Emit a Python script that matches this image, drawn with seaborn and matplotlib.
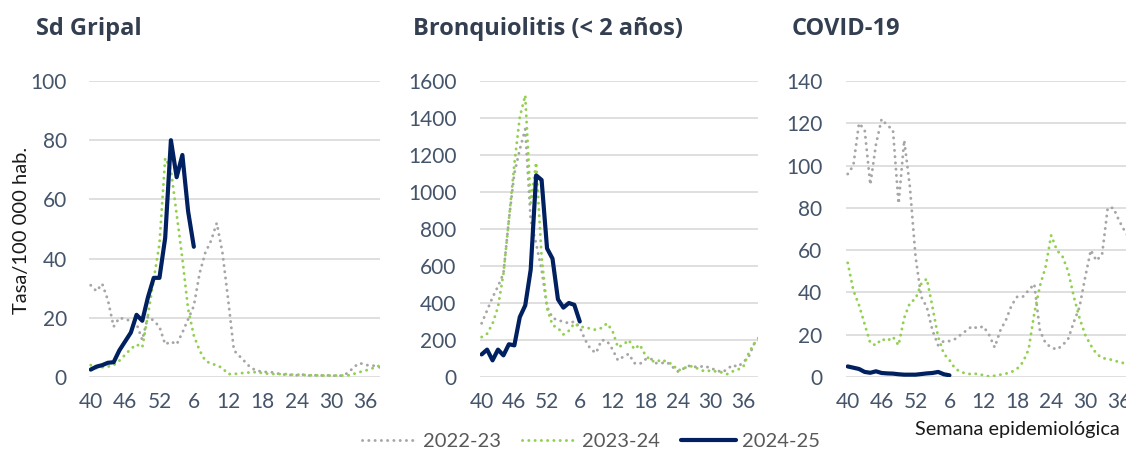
import numpy as np
import matplotlib
matplotlib.use('Agg')
import matplotlib.pyplot as plt
from matplotlib.lines import Line2D
import seaborn as sns

# epidemiological weeks 40..52, 1..39
weeks = list(range(40, 53)) + list(range(1, 40))
tick_every = 6

seasons = ['2022-23', '2023-24', '2024-25']

gripal_2223 = [31, 29, 31.5, 26, 17, 20, 19.5, 19, 18, 12.5,
               20.5, 19, 17, 11, 12, 11, 15, 19.5, 24, 35,
               42, 46, 52, 42, 26, 9, 7, 5, 3, 2.2,
               1.7, 1.7, 1.5, 1, 0.8, 0.7, 0.6, 0.8, 0.5, 0.6,
               0.5, 0.6, 0.5, 0.4, 0.5, 1.5, 3.5, 4.7, 4, 4,
               3.5, 3]
gripal_2324 = [4, 3, 3.3, 3.5, 4, 5.5, 7.5, 9.5, 11, 10,
               21, 33, 45, 74, 70, 55, 40, 23, 14, 9,
               5.5, 4.5, 4, 3, 1, 1, 1.2, 1.5, 1.5, 1.7,
               1.3, 1.1, 1, 1, 1, 0.8, 0.8, 0.7, 0.6, 0.6,
               0.5, 0.5, 0.5, 0.5, 0.5, 0.6, 1.1, 1.7, 2.2, 2.8,
               3.6, 4]
gripal_2425 = [2.5, 3.5, 4, 4.8, 5, 9, 12, 15, 21, 19,
               27, 33.5, 33.5, 47, 80, 67.5, 75, 56, 44]

bronq_2223 = [290, 360, 430, 490, 560, 850, 1100, 1230, 1340, 850,
              720, 580, 380, 320, 306, 300, 290, 300, 270, 200,
              150, 130, 200, 195, 150, 90, 110, 125, 75, 70,
              95, 100, 75, 75, 80, 55, 30, 45, 60, 55,
              55, 60, 45, 40, 25, 40, 65, 55, 80, 110,
              180, 200]
bronq_2324 = [216, 234, 288, 378, 558, 850, 1150, 1405, 1523, 940,
              1160, 650, 370, 280, 265, 230, 250, 290, 270, 270,
              260, 255, 265, 290, 250, 160, 175, 200, 150, 175,
              120, 90, 80, 95, 80, 70, 35, 45, 60, 55,
              40, 30, 35, 30, 25, 15, 30, 40, 55, 130,
              180, 220]
bronq_2425 = [122, 148, 90, 148, 117, 177, 171, 324, 387, 580,
              1090, 1065, 695, 640, 420, 375, 400, 390, 300]

covid_2223 = [96, 100, 120, 117, 91, 110, 122, 119, 117, 82,
              112, 90, 57, 38, 33, 22, 15, 17, 17, 18,
              20, 22, 24, 23, 24, 20, 14, 22, 27, 34,
              38, 38, 41, 44, 22, 16, 14, 13, 15, 18,
              26, 33, 47, 60, 55, 58, 80, 80, 74, 69,
              65, 60]
covid_2324 = [54, 41, 34, 25, 16, 15, 18, 17, 19, 15,
              28, 35, 37, 44, 46.5, 33, 19, 11, 8, 4,
              2.4, 1.6, 1.3, 1.6, 0.8, 0.3, 0.6, 1.1, 1.6, 2.4,
              4, 7, 13, 30, 43, 52, 67, 60, 57, 50,
              38, 28, 20, 15, 11, 9, 8.5, 8, 7, 6.5,
              6, 6]
covid_2425 = [5, 4.4, 3.8, 2.4, 2, 2.7, 1.9, 1.7, 1.6, 1.3,
              1.1, 1.1, 1.1, 1.4, 1.7, 1.9, 2.4, 1.3, 0.8]

titles = ['Sd Gripal', 'Bronquiolitis (< 2 años)', 'COVID-19']
y_max = [100, 1600, 140]
y_step = [20, 200, 20]

GRAY = '#a6a6a6'
GREEN = '#92d050'
NAVY = '#002060'
TICK_COLOR = '#44546a'
TITLE_COLOR = '#333f50'

sns.set_style('white')
plt.rcParams['font.family'] = ['Lato', 'DejaVu Sans']

W, H = 1126, 450
fig = plt.figure(figsize=(W / 100, H / 100), dpi=100)

# axes boxes in pixels: left, width, title-left, y tick pad
boxes = [(89, 291, 36, 16), (480, 278, 413, 17), (846, 290, 792, 17)]
xmax = [50.5, 50.7, 51.0]
top_px, bot_px = 81, 377

x = np.arange(len(weeks))
dot = dict(linestyle=(0, (0.05, 2.1)), dash_capstyle='round', linewidth=2.1)

panels = [(gripal_2223, gripal_2324, gripal_2425),
          (bronq_2223, bronq_2324, bronq_2425),
          (covid_2223, covid_2324, covid_2425)]

for k, (s1, s2, s3) in enumerate(panels):
    left, width, tleft, ypad = boxes[k]
    ax = fig.add_axes([left / W, 1 - bot_px / H, width / W, (bot_px - top_px) / H])
    sns.lineplot(x=x, y=s1, ax=ax, color=GRAY, **dot)
    sns.lineplot(x=x, y=s2, ax=ax, color=GREEN, **dot)
    sns.lineplot(x=x[:len(s3)], y=s3, ax=ax, color=NAVY, linewidth=3,
                 solid_capstyle='round', solid_joinstyle='round')
    ax.set_xlim(-0.3, xmax[k])
    ax.set_ylim(0, y_max[k])
    ax.set_yticks(np.arange(0, y_max[k] + 1, y_step[k]))
    ax.set_xticks(x[::tick_every])
    ax.set_xticklabels([str(w) for w in weeks[::tick_every]])
    ax.grid(axis='y', color='#d9d9d9', linewidth=1.2)
    ax.set_axisbelow(True)
    for sp in ax.spines.values():
        sp.set_visible(False)
    ax.tick_params(axis='x', length=0, pad=11, labelsize=15, labelcolor=TICK_COLOR)
    ax.tick_params(axis='y', length=0, pad=ypad, labelsize=15, labelcolor=TICK_COLOR)
    ax.set_xlabel('')
    ax.set_ylabel('')
    fig.text(tleft / W, 1 - 35 / H, titles[k], ha='left', va='baseline',
             fontsize=17, fontweight='bold', color=TITLE_COLOR,
             family=['Open Sans', 'DejaVu Sans'])

fig.text(22 / W, 1 - 230 / H, 'Tasa/100 000 hab.', rotation=90, ha='center',
         va='center', fontsize=14.5, color='#1a1a1a')
fig.text(915 / W, 1 - 429 / H, 'Semana epidemiológica', ha='left', va='center',
         fontsize=14.3, color='#1a1a1a')

handles = [Line2D([], [], color=GRAY, **dot),
           Line2D([], [], color=GREEN, **dot),
           Line2D([], [], color=NAVY, linewidth=3)]
fig.legend(handles, seasons, ncol=3, loc='center',
           bbox_to_anchor=(591 / W, 1 - 441 / H), frameon=False,
           handlelength=2.7, handletextpad=0.3, columnspacing=1.05,
           fontsize=14.5, labelcolor='#595959', borderpad=0)

fig.savefig('out.png', dpi=100)
